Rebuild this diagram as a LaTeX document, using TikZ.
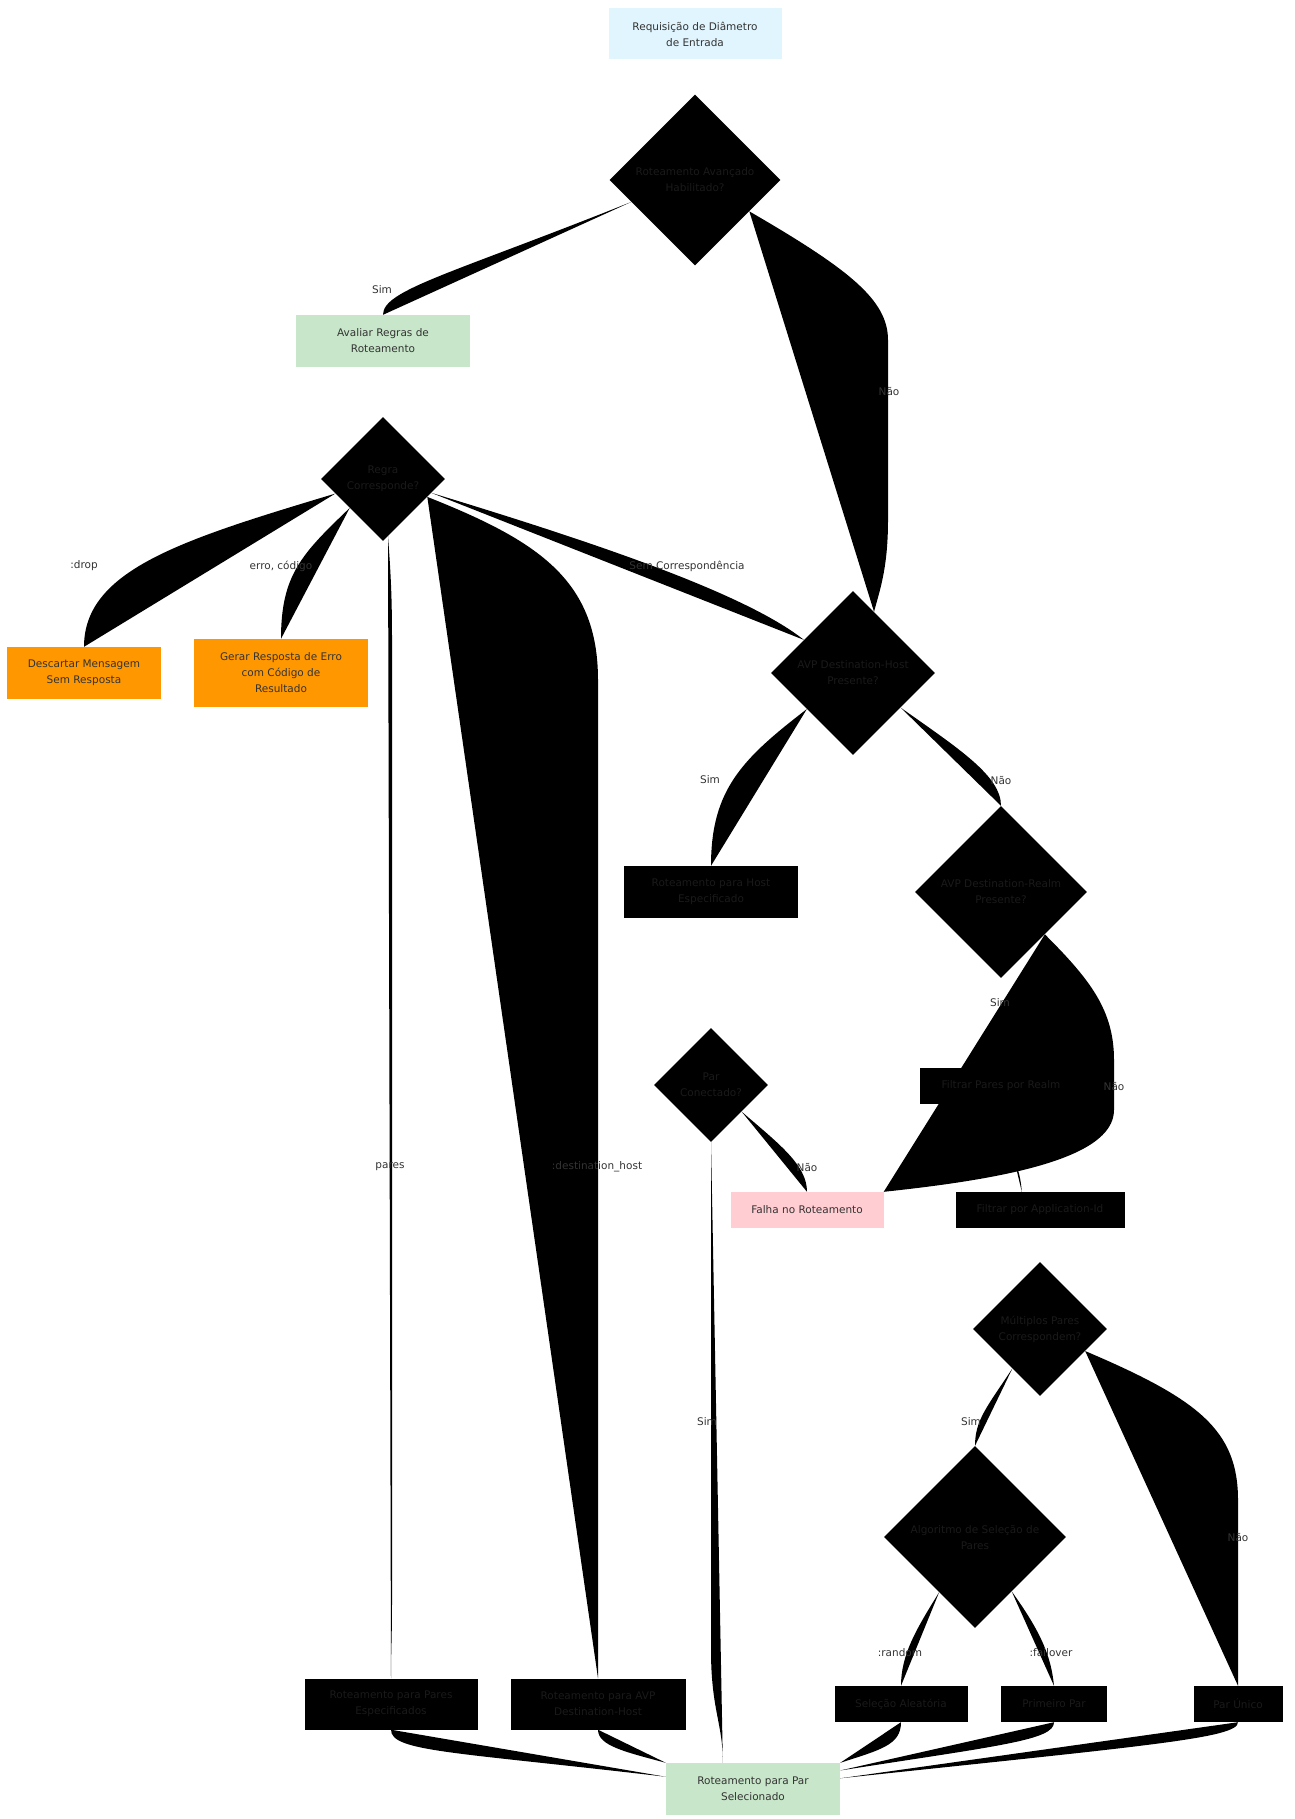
\documentclass[tikz,border=0pt]{standalone}
\usepackage{fontspec}
\setmainfont{DejaVu Sans}
\usetikzlibrary{shapes.geometric}

\definecolor{reqblue}{HTML}{E1F5FE}
\definecolor{okgreen}{HTML}{C8E6C9}
\definecolor{warnorange}{HTML}{FF9800}
\definecolor{failpink}{HTML}{FFCDD2}
\definecolor{ink}{HTML}{333333}
\definecolor{darkink}{HTML}{1A1A1A}

\pgfdeclarelayer{edges}
\pgfsetlayers{edges,main}

\begin{document}
\begin{tikzpicture}[
			x=1pt, y=-1pt,
			every node/.style={font=\fontsize{10.5}{16}\selectfont, align=center},
			box/.style={rectangle, inner sep=0pt, fill=black, text=darkink},
			decision/.style={diamond, shape aspect=1, inner sep=0pt, fill=black, text=darkink},
			link/.style={fill=black, draw=none},
			straight/.style={draw=none},
			elabel/.style={inner sep=1pt, text=ink}
			]
			\useasboundingbox (0,0) rectangle (1294,1819);

			% Entry and first decision
			\node[box, fill=reqblue, text=ink, minimum width=173, minimum height=51] (req) at (695,34) {Requisição de Diâmetro\\de Entrada};
			\node[decision, minimum width=171, minimum height=171] (d1) at (695,180) {Roteamento Avançado\\Habilitado?};

			% Rule branch
			\node[box, fill=okgreen, text=ink, minimum width=174, minimum height=52] (aval) at (383,341) {Avaliar Regras de\\Roteamento};
			\node[decision, minimum width=124, minimum height=124] (d2) at (383,479) {Regra\\Corresponde?};
			\node[box, fill=warnorange, text=ink, minimum width=154, minimum height=52] (desc) at (84,673) {Descartar Mensagem\\Sem Resposta};
			\node[box, fill=warnorange, text=ink, minimum width=174, minimum height=68] (gerar) at (281,673) {Gerar Resposta de Erro\\com Código de\\Resultado};

			% AVP branch
			\node[decision, minimum width=164, minimum height=164] (d3) at (853,673) {AVP Destination-Host\\Presente?};
			\node[box, minimum width=174, minimum height=52] (host) at (711,892) {Roteamento para Host\\Especificado};
			\node[decision, minimum width=172, minimum height=172] (d4) at (1001,892) {AVP Destination-Realm\\Presente?};
			\node[decision, minimum width=114, minimum height=114] (d5) at (711,1085) {Par\\Conectado?};
			\node[box, fill=failpink, text=ink, minimum width=153, minimum height=36] (falha) at (807,1210) {Falha no Roteamento};
			\node[box, minimum width=162, minimum height=36] (realm) at (1001,1086) {Filtrar Pares por Realm};
			\node[box, minimum width=169, minimum height=36] (appid) at (1040,1210) {Filtrar por Application-Id};
			\node[decision, minimum width=134, minimum height=134] (d6) at (1040,1329) {Múltiplos Pares\\Correspondem?};
			\node[decision, minimum width=182, minimum height=182] (d7) at (975,1537) {Algoritmo de Seleção de\\Pares};

			% Bottom row
			\node[box, minimum width=173, minimum height=51] (pares) at (391,1704) {Roteamento para Pares\\Especificados};
			\node[box, minimum width=175, minimum height=51] (desthost) at (598,1704) {Roteamento para AVP\\Destination-Host};
			\node[box, minimum width=133, minimum height=36] (aleat) at (901,1704) {Seleção Aleatória};
			\node[box, minimum width=106, minimum height=36] (primeiro) at (1054,1704) {Primeiro Par};
			\node[box, minimum width=89, minimum height=36] (unico) at (1238,1704) {Par Único};
			\node[box, fill=okgreen, text=ink, minimum width=174, minimum height=52] (sel) at (753,1789) {Roteamento para Par\\Selecionado};

			\begin{pgfonlayer}{edges}
			\path[straight] (req.south) -- (d1.north);
			\path[link] (d1.199) .. controls +(-180,72) and +(0,-25) .. (aval.north);
			\path[link] (d1.-30) .. controls +(100,58) and +(0,-40) .. (888,340) -- (888,520) .. controls +(0,50) and +(5,-20) .. (d3.71);
			\path[straight] (aval.south) -- (d2.north);
			\path[link] (d2.197) .. controls +(-153,46) and +(0,-77) .. (desc.north);
			\path[link] (d2.-139) .. controls +(-48,46) and +(0,-64) .. (gerar.north);
			\path[link] (d2.-85) .. controls +(3,40) and +(0,-40) .. (392,640) -- (392,1600) .. controls +(0,40) and +(0,-30) .. (pares.north);
			\path[link] (d2.-22) .. controls +(111,44) and +(0,-100) .. (598,680) -- (desthost.north);
			\path[link] (d2.-16) .. controls +(168,51) and +(-58,-46) .. (d3.146);
			\path[link] (d3.-142) .. controls +(-65,50) and +(0,-76) .. (host.north);
			\path[link] (d3.-36) .. controls +(58,41) and +(0,-30) .. (d4.north);
			\path[straight] (host.south) -- (d5.north);
			\path[straight] (d4.south) -- (realm.north);
			\path[link] (d4.-44) .. controls +(45,45) and +(0,-50) .. (1114,1060) -- (1114,1110) .. controls +(0,50) and +(113,-12) .. (falha.north east);
			\path[link] (realm.south) .. controls +(0,45) and +(-3,-40) .. (appid.135);
			\path[straight] (appid.south) -- (d6.north);
			\path[link] (d5.-41) .. controls +(37,32) and +(0,-27) .. (falha.north);
			\path[link] (d5.south) -- (711,1650) .. controls +(0,60) and +(0,-40) .. (sel.139);
			\path[link] (d6.-125) .. controls +(-25,38) and +(0,-26) .. (d7.north);
			\path[link] (d6.-26) .. controls +(113,48) and +(0,-70) .. (1238,1500) -- (unico.north);
			\path[link] (d7.-123) .. controls +(-23,37) and +(0,-31) .. (aleat.north);
			\path[link] (d7.-56) .. controls +(28,39) and +(-3,-31) .. (primeiro.north);
			\path[link] (pares.south) .. controls +(0,22) and +(-213,-25) .. (sel.172);
			\path[link] (desthost.south) .. controls +(0,16) and +(-41,-11) .. (sel.north west);
			\path[link] (aleat.south) .. controls +(0,23) and +(40,-13) .. (sel.north east);
			\path[link] (primeiro.south) .. controls +(0,18) and +(160,-25) .. (sel.12);
			\path[link] (unico.south) .. controls +(0,16) and +(310,-33) .. (sel.7);
			\end{pgfonlayer}

			% Edge labels
			\node[elabel] (l1) at (382,290) {Sim};
			\node[elabel] (l2) at (889,391) {Não};
			\node[elabel] (l3) at (84,566) {:drop};
			\node[elabel] (l4) at (281,566) {erro, código};
			\node[elabel] (l5) at (390,1167) {pares};
			\node[elabel] (l6) at (597,1167) {:destination\_host};
			\node[elabel] (l7) at (687,566) {Sem Correspondência};
			\node[elabel] (l8) at (710,780) {Sim};
			\node[elabel] (l9) at (1001,780) {Não};
			\node[elabel] (l10) at (1000,1003) {Sim};
			\node[elabel] (l11) at (1114,1086) {Não};
			\node[elabel] (l12) at (807,1167) {Não};
			\node[elabel] (l13) at (707,1422) {Sim};
			\node[elabel] (l14) at (971,1422) {Sim};
			\node[elabel] (l15) at (1238,1537) {Não};
			\node[elabel] (l16) at (900,1653) {:random};
			\node[elabel] (l17) at (1051,1653) {:failover};
		\end{tikzpicture}
\end{document}
